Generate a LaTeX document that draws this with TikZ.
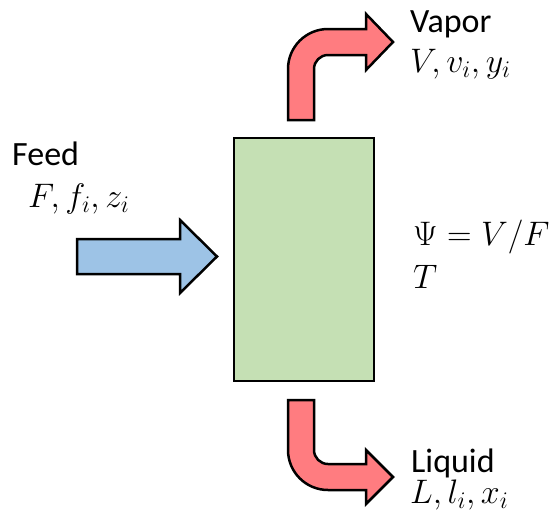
\RequirePackage{fix-cm}
\documentclass[tikz,border=0pt]{standalone}
\usepackage{fontspec}
\setmainfont{Carlito}
\definecolor{boxgreen}{HTML}{C5E0B4}
\definecolor{feedblue}{HTML}{9DC3E6}
\definecolor{outred}{HTML}{FF7C80}
\tikzset{
  blockarrow/.style={draw=black, line width=2.5pt, line join=miter},
  lbl/.style={anchor=base west, inner sep=0pt, font=\fontsize{34}{40}\selectfont},
}
\begin{document}
\begin{tikzpicture}[x=1pt, y=1pt, yscale=-1]
\useasboundingbox (0,0) rectangle (554,523);
% vessel
\node[draw=black, line width=2.5pt, fill=boxgreen, minimum width=140pt, minimum height=243pt, inner sep=0pt] (drum) at (304,259.5) {};
% feed arrow
\draw[blockarrow, fill=feedblue] (77,239) -- (180,239) -- (180,220) -- (217,256.5) -- (180,293) -- (180,274) -- (77,274) -- cycle;
% vapor arrow
\draw[blockarrow, fill=outred] (288,120) -- (288,69) arc[start angle=180, end angle=270, radius=40] -- (366,29) -- (366,14) -- (393,42) -- (366,70) -- (366,55) -- (328,55) arc[start angle=270, end angle=180, radius=14] -- (314,120) -- cycle;
% liquid arrow
\draw[blockarrow, fill=outred] (288,400) -- (288,450) arc[start angle=180, end angle=90, radius=40] -- (366,490) -- (366,504) -- (393,477) -- (366,450) -- (366,464) -- (328,464) arc[start angle=90, end angle=180, radius=14] -- (314,400) -- cycle;
% labels
\node[lbl] (vap) at (410,32) {Vapor};
\node[lbl] (vapv) at (410,72) {$V, v_i, y_i$};
\node[lbl] (feed) at (12,165) {Feed};
\node[lbl] (feedv) at (28,207) {$F, f_i, z_i$};
\node[lbl] (psi) at (413,245) {$\Psi = V/F$};
\node[lbl] (temp) at (413,288) {$T$};
\node[lbl] (liq) at (411,472) {Liquid};
\node[lbl] (liqv) at (410,503) {$L, l_i, x_i$};
\end{tikzpicture}
\end{document}
